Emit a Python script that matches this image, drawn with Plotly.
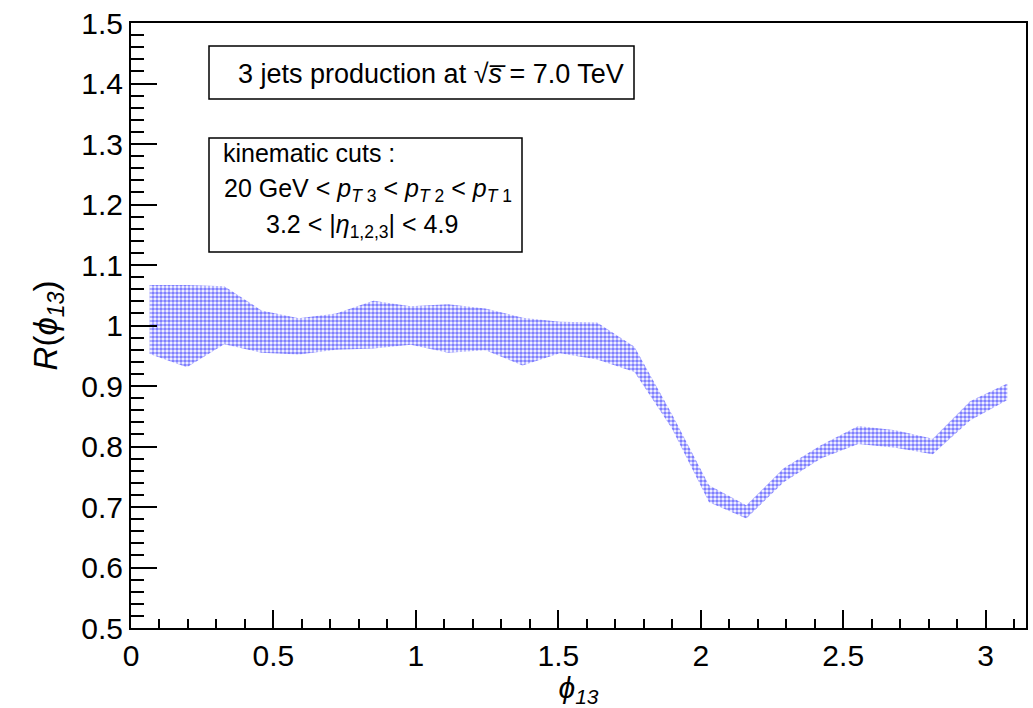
import math
import plotly.graph_objects as go

# bin centres (24 bins on [0, pi])
phi13 = [(i + 0.5) * math.pi / 24 for i in range(24)]
r_upper = [1.067, 1.067, 1.065, 1.025, 1.012, 1.020, 1.041, 1.032, 1.035, 1.028,
           1.013, 1.006, 1.005, 0.965, 0.854, 0.736, 0.703, 0.764, 0.802, 0.834,
           0.827, 0.813, 0.875, 0.904]
r_lower = [0.953, 0.931, 0.969, 0.955, 0.952, 0.960, 0.962, 0.968, 0.955, 0.959,
           0.934, 0.954, 0.944, 0.923, 0.830, 0.708, 0.681, 0.741, 0.780, 0.804,
           0.798, 0.787, 0.843, 0.877]
x_ticks = [0, 0.5, 1, 1.5, 2, 2.5, 3]
y_ticks = [0.5, 0.6, 0.7, 0.8, 0.9, 1.0, 1.1, 1.2, 1.3, 1.4, 1.5]

FONT = "Liberation Sans, Arial, sans-serif"

fig = go.Figure()
fig.add_trace(go.Scatter(
    x=phi13 + phi13[::-1],
    y=r_upper + r_lower[::-1],
    mode="lines",
    fill="toself",
    line=dict(width=0, color="rgba(0,0,255,0)"),
    fillcolor="rgba(0,0,0,0)",
    fillpattern=dict(shape=".", fgcolor="#0000ff", bgcolor="rgba(0,0,0,0)",
                     size=4, solidity=0.65),
    hoverinfo="skip",
    showlegend=False,
))

axis_common = dict(
    showline=True, linecolor="black", linewidth=2, mirror=True,
    ticks="inside", tickcolor="black", tickwidth=2,
    showgrid=False, zeroline=False,
    tickfont=dict(family=FONT, size=30, color="black"),
)

fig.update_xaxes(
    range=[0, math.pi], tickvals=x_ticks,
    ticktext=[f"{v:g}" for v in x_ticks],
    ticklen=18,
    minor=dict(ticks="inside", ticklen=9, dtick=0.1, tickcolor="black", tickwidth=2, tick0=0),
    title=dict(text="<i>ϕ<sub>13</sub></i>", font=dict(family=FONT, size=30, color="black"),
               standoff=12),
    **axis_common,
)
fig.update_yaxes(
    range=[0.5, 1.5], tickvals=y_ticks,
    ticktext=[f"{v:g}" for v in y_ticks],
    ticklen=26,
    minor=dict(ticks="inside", ticklen=13, dtick=0.02, tickcolor="black", tickwidth=2, tick0=0.5),
    title=dict(text="<i>R</i>(<i>ϕ<sub>13</sub></i>)", font=dict(family=FONT, size=33, color="black"),
               standoff=14),
    **axis_common,
)

# text boxes (positions in pixel-like paper fractions)
L, R, T, B = 131, 1026, 23, 628
def px(x):
    return (x - L) / (R - L)
def py(y):
    return (B - y) / (B - T)

fig.add_shape(type="rect", xref="paper", yref="paper",
              x0=px(209), x1=px(634), y0=py(99), y1=py(46),
              line=dict(color="black", width=1.5), fillcolor="white", layer="above")
fig.add_shape(type="rect", xref="paper", yref="paper",
              x0=px(209), x1=px(522), y0=py(252), y1=py(138),
              line=dict(color="black", width=1.5), fillcolor="white", layer="above")

fig.add_annotation(xref="paper", yref="paper", x=px(431), y=py(74),
                   text="3 jets production at √<i>s\u0305</i> = 7.0 TeV",
                   showarrow=False, xanchor="center", yanchor="middle",
                   font=dict(family=FONT, size=27, color="black"))
fig.add_annotation(xref="paper", yref="paper", x=px(221), y=py(153),
                   text="kinematic cuts :",
                   showarrow=False, xanchor="left", yanchor="middle",
                   font=dict(family=FONT, size=25, color="black"))
fig.add_annotation(xref="paper", yref="paper", x=px(368), y=py(190),
                   text="20 GeV < <i>p</i><sub><i>T</i> 3</sub> < <i>p</i><sub><i>T</i> 2</sub> < <i>p</i><sub><i>T</i> 1</sub>",
                   showarrow=False, xanchor="center", yanchor="middle",
                   font=dict(family=FONT, size=25, color="black"))
fig.add_annotation(xref="paper", yref="paper", x=px(362), y=py(226),
                   text="3.2 < |<i>η</i><sub>1,2,3</sub>| < 4.9",
                   showarrow=False, xanchor="center", yanchor="middle",
                   font=dict(family=FONT, size=25, color="black"))

fig.update_layout(
    width=1033, height=708,
    margin=dict(l=L, r=1033 - R, t=T, b=708 - B, autoexpand=False),
    paper_bgcolor="white", plot_bgcolor="white",
    font=dict(family=FONT, color="black"),
)

fig.write_html("out.html")
